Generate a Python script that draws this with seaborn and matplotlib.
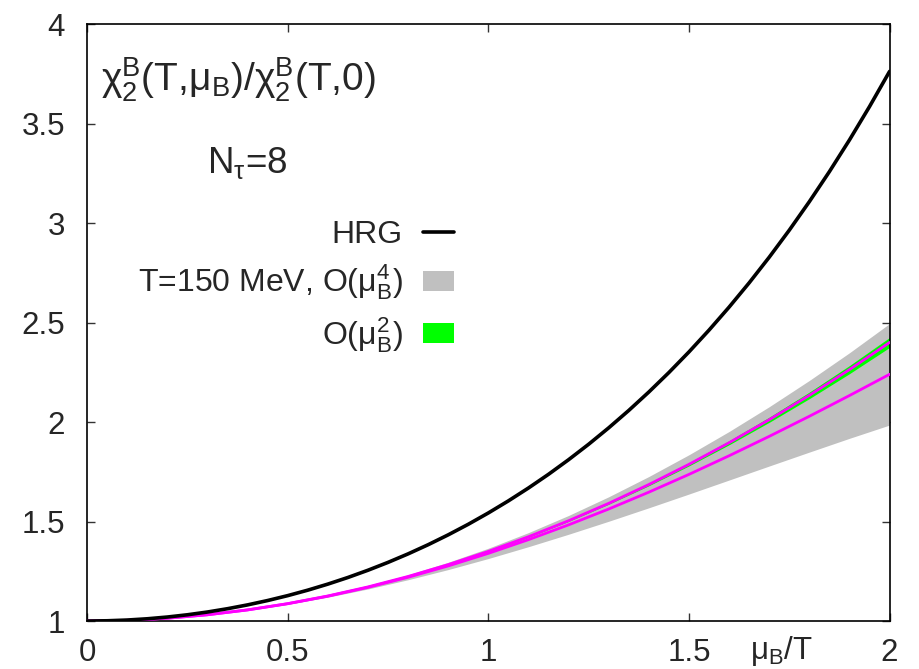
import numpy as np
import pandas as pd
import matplotlib
matplotlib.use('Agg')
import matplotlib.pyplot as plt
import seaborn as sns
from matplotlib.lines import Line2D
from matplotlib.patches import Patch
from matplotlib.ticker import FormatStrFormatter

# mu_B/T grid and values
mu = [0.0, 0.1, 0.2, 0.3, 0.4, 0.5, 0.6, 0.7, 0.8, 0.9, 1.0,
      1.1, 1.2, 1.3, 1.4, 1.5, 1.6, 1.7, 1.8, 1.9, 2.0]

# HRG curve on a finer grid
mu_hrg = [0.0, 0.05, 0.1, 0.15, 0.2, 0.25, 0.3, 0.35, 0.4, 0.45, 0.5,
          0.55, 0.6, 0.65, 0.7, 0.75, 0.8, 0.85, 0.9, 0.95, 1.0,
          1.05, 1.1, 1.15, 1.2, 1.25, 1.3, 1.35, 1.4, 1.45, 1.5,
          1.55, 1.6, 1.65, 1.7, 1.75, 1.8, 1.85, 1.9, 1.95, 2.0]
hrg = [1.000, 1.0013, 1.005, 1.0113, 1.0201, 1.0314, 1.0453, 1.0619, 1.0811, 1.1030, 1.1276,
       1.1551, 1.1855, 1.2188, 1.2552, 1.2947, 1.3374, 1.3835, 1.4331, 1.4862, 1.5431,
       1.6038, 1.6685, 1.7374, 1.8107, 1.8884, 1.9709, 2.0583, 2.1509, 2.2488, 2.3524,
       2.4619, 2.5775, 2.6995, 2.8283, 2.9642, 3.1075, 3.2585, 3.4177, 3.5855, 3.7622]

# O(mu_B^2) band
o2_mid = [1.0, 1.0035, 1.014, 1.0315, 1.056, 1.0875, 1.126, 1.1715, 1.224, 1.2835, 1.35,
          1.4235, 1.504, 1.5915, 1.686, 1.7875, 1.896, 2.0115, 2.134, 2.2635, 2.40]
o2_lo = [1.0, 1.0035, 1.014, 1.0315, 1.056, 1.0874, 1.1258, 1.1711, 1.2234, 1.2825, 1.3484,
         1.4212, 1.5008, 1.587, 1.68, 1.7796, 1.8858, 1.9985, 2.1176, 2.2431, 2.375]
o2_hi = [1.0, 1.0035, 1.014, 1.0315, 1.056, 1.0876, 1.1262, 1.1719, 1.2246, 1.2845, 1.3516,
         1.4258, 1.5072, 1.596, 1.692, 1.7954, 1.9062, 2.0245, 2.1504, 2.2839, 2.425]

# O(mu_B^4) band, T=150 MeV
o4_mid = [1.0, 1.0035, 1.014, 1.0314, 1.0557, 1.0869, 1.1247, 1.1691, 1.2199, 1.2769, 1.34,
          1.4089, 1.4833, 1.5629, 1.6476, 1.7369, 1.8305, 1.928, 2.029, 2.1332, 2.24]
o4_lo = [1.0, 1.0035, 1.0139, 1.0309, 1.0544, 1.0843, 1.1199, 1.1611, 1.2075, 1.2586, 1.3141,
         1.3735, 1.4361, 1.5014, 1.569, 1.6382, 1.7085, 1.779, 1.849, 1.9182, 1.985]
o4_hi = [1.0, 1.0035, 1.0141, 1.0319, 1.057, 1.0895, 1.1295, 1.1771, 1.2323, 1.2952, 1.3659,
         1.4443, 1.5305, 1.6244, 1.7262, 1.8356, 1.9525, 2.077, 2.209, 2.3482, 2.495]

x_ticks = [0, 0.5, 1, 1.5, 2]
y_ticks = [1, 1.5, 2, 2.5, 3, 3.5, 4]

df = pd.DataFrame({'mu': mu, 'o2': o2_mid, 'o4': o4_mid})
df_hrg = pd.DataFrame({'mu': mu_hrg, 'hrg': hrg})

sns.set_style('ticks')
plt.rcParams['font.family'] = ['Liberation Sans', 'DejaVu Sans']
plt.rcParams['mathtext.default'] = 'regular'
fs = 22.5

fig = plt.figure(figsize=(9.19, 6.69), dpi=100)
ax = fig.add_axes([0.0947, 0.0717, 0.8733, 0.8923])

ax.fill_between(mu, o4_lo, o4_hi, color='#c0c0c0', lw=0, zorder=1)
ax.fill_between(mu, o2_lo, o2_hi, color='#00ff00', lw=0, zorder=2)
sns.lineplot(data=df, x='mu', y='o2', color='#ff00ff', lw=2.0, ax=ax, zorder=3)
sns.lineplot(data=df, x='mu', y='o4', color='#ff00ff', lw=2.0, ax=ax, zorder=3)
sns.lineplot(data=df_hrg, x='mu', y='hrg', color='black', lw=2.6, ax=ax, zorder=4)

ax.set_xlim(0, 2)
ax.set_ylim(1, 4)
ax.set_xticks(x_ticks)
ax.set_yticks(y_ticks)
ax.xaxis.set_major_formatter(FormatStrFormatter('%g'))
ax.yaxis.set_major_formatter(FormatStrFormatter('%g'))
ax.tick_params(axis='both', which='major', direction='in', length=6, width=1,
               labelsize=fs, top=True, right=True, color='#333333')
ax.tick_params(axis='x', pad=12)
ax.tick_params(axis='y', pad=16)
for s in ax.spines.values():
    s.set_linewidth(1.2)
    s.set_color('black')

ax.set_ylabel('')
ax.set_xlabel(r'$\mu_B$/T', fontsize=fs)
ax.xaxis.set_label_coords(0.865, -0.022)

ax.text(0.0175, 0.906, r'$\chi_2^B(T{,}\mu_B)/\chi_2^B(T{,}0)$', transform=ax.transAxes,
        fontsize=28, ha='left', va='center')
ax.text(0.15, 0.767, r'$N_\tau$=8', transform=ax.transAxes,
        fontsize=26.5, ha='left', va='center')

handles = [Line2D([], [], color='black', lw=2.6),
           Patch(facecolor='#c0c0c0', edgecolor='none'),
           Patch(facecolor='#00ff00', edgecolor='none')]
labels = ['HRG', r'T=150 MeV, O($\mu_B^4$)', r'O($\mu_B^2$)']
ax.legend(handles, labels, loc='upper right', bbox_to_anchor=(0.457, 0.672),
          frameon=False, markerfirst=False, fontsize=23, handlelength=0.95,
          handleheight=0.6, handletextpad=0.65, labelspacing=0.4, borderpad=0,
          borderaxespad=0)

fig.savefig('out.png', dpi=100)
